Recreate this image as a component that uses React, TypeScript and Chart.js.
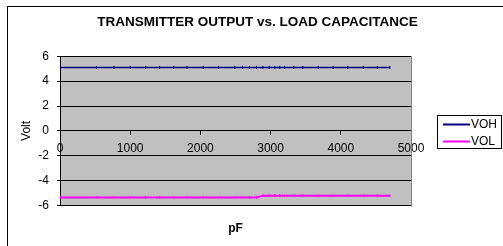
import React, { useEffect, useRef } from "react";
import { Chart, registerables } from "chart.js";

Chart.register(...registerables);

const chartTitle = "TRANSMITTER OUTPUT vs. LOAD CAPACITANCE";
const xAxisTitle = "pF";
const yAxisTitle = "Volt";
const capacitance = [0, 520, 770, 1000, 1220, 1420, 1620, 1810, 2040, 2260, 2490, 2600, 2700, 2800, 2890, 2980, 3060, 3130, 3200, 3330, 3460, 3680, 3890, 4100, 4320, 4520, 4700];
const voh = [5.1, 5.1, 5.1, 5.1, 5.1, 5.1, 5.1, 5.1, 5.1, 5.1, 5.1, 5.1, 5.1, 5.1, 5.1, 5.1, 5.1, 5.1, 5.1, 5.1, 5.1, 5.1, 5.1, 5.1, 5.1, 5.1, 5.1];
const vol = [-5.34, -5.34, -5.34, -5.34, -5.34, -5.34, -5.34, -5.34, -5.34, -5.34, -5.34, -5.34, -5.34, -5.34, -5.2, -5.2, -5.2, -5.2, -5.2, -5.2, -5.2, -5.2, -5.2, -5.2, -5.2, -5.2, -5.2];
const seriesNames = ["VOH", "VOL"];
const seriesColors = ["#000080", "#FF00FF"];

const FONT = "'Liberation Sans', Arial, sans-serif";

const framePlugin = {
  id: "frame",
  beforeDraw(chart: any) {
    const { ctx, chartArea: a, width, height } = chart;
    ctx.save();
    ctx.fillStyle = "#ffffff";
    ctx.fillRect(0, 0, width, height);
    ctx.strokeStyle = "#000000";
    ctx.lineWidth = 1;
    ctx.strokeRect(7.5, 6.5, width + 50, height + 50);
    ctx.fillStyle = "#C0C0C0";
    ctx.fillRect(a.left, a.top, a.right - a.left, a.bottom - a.top);
    ctx.restore();
  },
  afterDraw(chart: any) {
    const { ctx, chartArea: a } = chart;
    ctx.save();
    ctx.strokeStyle = "#808080";
    ctx.lineWidth = 1;
    ctx.beginPath();
    ctx.moveTo(a.right + 0.5, a.top);
    ctx.lineTo(a.right + 0.5, a.bottom + 1);
    ctx.stroke();
    // legend
    const bx = 437, by = 115, bw = 65, bh = 34;
    ctx.fillStyle = "#ffffff";
    ctx.fillRect(bx, by, bw, bh);
    ctx.strokeStyle = "#000000";
    ctx.strokeRect(bx + 0.5, by + 0.5, bw - 1, bh - 1);
    ctx.font = `12px ${FONT}`;
    ctx.textBaseline = "middle";
    ctx.textAlign = "left";
    seriesNames.forEach((name, i) => {
      const y = by + 9.5 + i * 17;
      ctx.strokeStyle = seriesColors[i];
      ctx.lineWidth = 2;
      ctx.beginPath();
      ctx.moveTo(bx + 6, y);
      ctx.lineTo(bx + 33, y);
      ctx.stroke();
      ctx.fillStyle = "#000000";
      ctx.fillText(name, bx + 34, y);
    });
    ctx.restore();
  },
};

export default function App() {
  const ref = useRef<HTMLCanvasElement>(null);
  useEffect(() => {
    if (!ref.current) return;
    const chart = new Chart(ref.current, {
      type: "line",
      data: {
        datasets: seriesNames.map((name, i) => ({
          label: name,
          data: capacitance.map((c, j) => ({ x: c, y: i === 0 ? voh[j] : vol[j] })),
          borderColor: seriesColors[i],
          backgroundColor: seriesColors[i],
          borderWidth: i === 0 ? 1.5 : 2,
          pointStyle: "line",
          rotation: 90,
          pointRadius: 1.5,
          pointBorderWidth: 1,
          tension: 0,
          fill: false,
          xAxisID: "x",
          yAxisID: "y",
        })),
      },
      options: {
        responsive: false,
        animation: false,
        layout: { padding: { left: 12, right: 0, top: 0, bottom: 10 } },
        plugins: {
          legend: { display: false },
          tooltip: { enabled: false },
          title: {
            display: true,
            text: chartTitle,
            color: "#000000",
            font: { family: FONT, size: 13.5, weight: "bold", lineHeight: 1.2 },
            padding: { top: 14, bottom: 26 },
          },
        },
        scales: {
          x: {
            type: "linear",
            position: { y: 0 },
            min: 0,
            max: 5000,
            ticks: {
              stepSize: 1000,
              color: "#000000",
              font: { family: FONT, size: 12 },
              padding: 7,
              maxRotation: 0,
              callback: (v: any) => String(v),
            },
            grid: { drawOnChartArea: false, drawTicks: true, tickLength: 4, color: "#000000" },
            border: { display: true, color: "#000000" },
          },
          x2: {
            type: "linear",
            axis: "x",
            position: "bottom",
            ticks: { display: false },
            grid: { display: false, drawTicks: false },
            border: { display: false },
            title: {
              display: true,
              text: xAxisTitle,
              color: "#000000",
              font: { family: FONT, size: 12, weight: "bold" },
              padding: { top: 16, bottom: 0 },
            },
          },
          y: {
            type: "linear",
            position: "left",
            min: -6,
            max: 6,
            ticks: {
              stepSize: 2,
              color: "#000000",
              font: { family: FONT, size: 12 },
              padding: 8,
              callback: (v: any) => String(v),
            },
            grid: { color: "#000000", tickLength: 3, drawTicks: true },
            border: { display: true, color: "#000000" },
            title: {
              display: true,
              text: yAxisTitle,
              color: "#000000",
              font: { family: FONT, size: 12 },
              padding: { top: 7, bottom: 0 },
            },
            afterFit: (s: any) => { s.width = 48; },
          },
          y2: {
            type: "linear",
            axis: "y",
            position: "right",
            ticks: { display: false },
            grid: { display: false, drawTicks: false },
            border: { display: false },
            afterFit: (s: any) => { s.width = 92; },
          },
        },
      },
      plugins: [framePlugin],
    } as any);
    return () => chart.destroy();
  }, []);
  return (
    <canvas
      ref={ref}
      width={503}
      height={246}
      style={{ position: "fixed", left: 0, top: 0, width: 503, height: 246 }}
    />
  );
}
